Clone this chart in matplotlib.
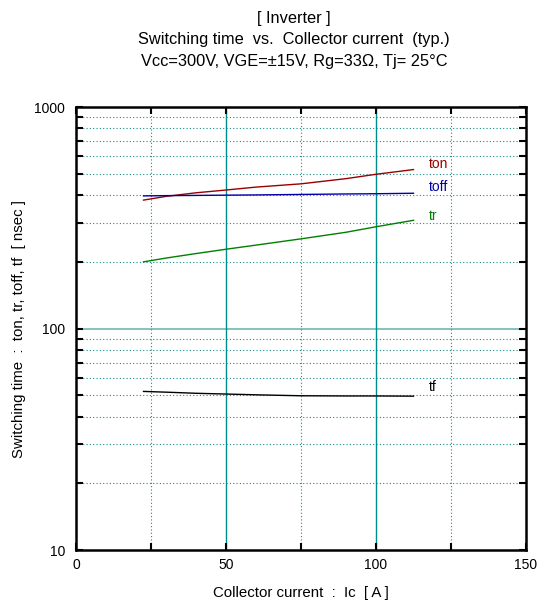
import numpy as np
import matplotlib
matplotlib.use("Agg")
import matplotlib.pyplot as plt
from matplotlib.ticker import FixedLocator, NullFormatter

plt.rcParams['font.family'] = ['Liberation Sans', 'DejaVu Sans']

# data
ic = [22.5, 30, 40, 50, 60, 75, 90, 100, 112.5]
ton = [380, 395, 410, 422, 435, 450, 475, 497, 522]
toff = [397, 398, 399, 400, 401, 403, 405, 406, 408]
tr = [200, 208, 218, 228, 238, 254, 272, 288, 308]
tf = [52.0, 51.6, 51.0, 50.6, 50.2, 49.7, 49.6, 49.6, 49.5]

series = [("ton", ton, "#990000", 553), ("toff", toff, "#0000aa", 435),
          ("tr", tr, "#008000", 322), ("tf", tf, "#000000", 54.5)]

fig = plt.figure(figsize=(5.38, 6.04), dpi=100)
ax = fig.add_axes([0.1413, 0.0894, 0.8364, 0.7334])
ax.set_yscale('log')
ax.set_xlim(0, 150)
ax.set_ylim(10, 1000)

grid_c = '#1a8a8a'
minor_y = [v * d for d in (10, 100) for v in range(2, 10)]
for y in minor_y:
    ax.axhline(y, color=grid_c, lw=0.8, ls=(0, (1, 2)), zorder=1)
ax.axhline(100, color='#6fb8b8', lw=1.2, zorder=1)
for x in (25, 75, 125):
    ax.axvline(x, color=grid_c, lw=0.8, ls=(0, (1, 2)), zorder=1)
for x in (50, 100):
    ax.axvline(x, color='#008b8b', lw=1.0, zorder=1)

for name, vals, col, ly in series:
    ax.plot(ic, vals, color=col, lw=1.0, zorder=3)
    ax.text(117.5, ly, name, color=col, fontsize=10, va='center', ha='left')

ax.xaxis.set_major_locator(FixedLocator([0, 50, 100, 150]))
ax.xaxis.set_minor_locator(FixedLocator([25, 75, 125]))
ax.yaxis.set_major_locator(FixedLocator([10, 100, 1000]))
ax.yaxis.set_minor_locator(FixedLocator(minor_y))
ax.yaxis.set_minor_formatter(NullFormatter())
ax.set_yticklabels(['10', '100', '1000'])
ax.tick_params(which='both', direction='in', top=True, right=True,
               labelsize=10, width=1.5, length=5)
ax.tick_params(axis='y', pad=8)
ax.tick_params(axis='x', pad=6)
for s in ax.spines.values():
    s.set_linewidth(1.8)

ax.set_xlabel('Collector current  :  Ic  [ A ]', fontsize=10.8, labelpad=10)
ax.set_ylabel('Switching time  :  ton, tr, toff, tf  [ nsec ]', fontsize=10.8, labelpad=6)

fig.text(0.547, 0.97, '[ Inverter ]', ha='center', va='center', fontsize=11.8)
fig.text(0.547, 0.934, 'Switching time  vs.  Collector current  (typ.)', ha='center', va='center', fontsize=11.8)
fig.text(0.547, 0.899, 'Vcc=300V, VGE=\u00b115V, Rg=33\u03a9, Tj= 25\u00b0C', ha='center', va='center', fontsize=11.8)

fig.savefig('out.png', dpi=100)
